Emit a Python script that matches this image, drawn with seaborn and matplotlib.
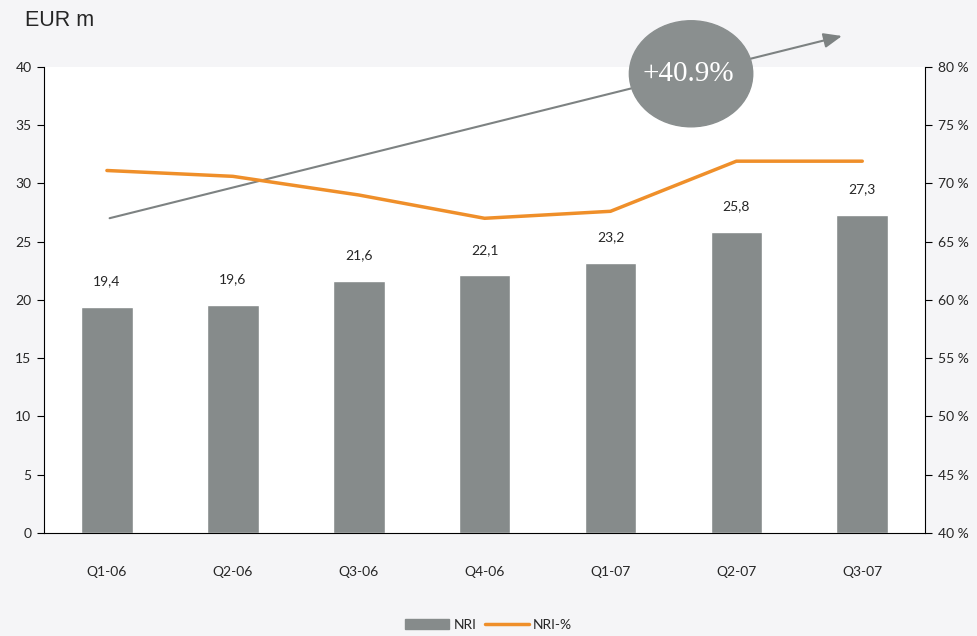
import numpy as np
import pandas as pd
import matplotlib.pyplot as plt
import seaborn as sns
from matplotlib.patches import Ellipse, Patch
from matplotlib.lines import Line2D

quarters = ["Q1-06", "Q2-06", "Q3-06", "Q4-06", "Q1-07", "Q2-07", "Q3-07"]
nri = [19.4, 19.6, 21.6, 22.1, 23.2, 25.8, 27.3]
nri_pct = [71.1, 70.6, 69.0, 67.0, 67.6, 71.9, 71.9]
growth_label = "+40.9%"

bar_col = "#868b8b"
line_col = "#ef8f2a"

sns.set_style("white")
plt.rcParams['font.family'] = ['Lato', 'DejaVu Sans']

fig = plt.figure(figsize=(9.77, 6.36), dpi=100, facecolor="#f5f5f7")
ax = fig.add_axes([0.045, 0.162, 0.902, 0.733])
ax.set_facecolor("white")

df = pd.DataFrame({"quarter": quarters, "nri": nri})
sns.barplot(data=df, x="quarter", y="nri", color=bar_col, width=0.41,
            saturation=1, ax=ax)
for i, v in enumerate(nri):
    ax.text(i, v + 2.2, f"{v:.1f}".replace(".", ","), ha="center", va="center",
            fontsize=10)

ax.set_xlim(-0.5, 6.5)
ax.set_ylim(0, 40)
ax.set_yticks(range(0, 41, 5))
ax.set_xlabel("")
ax.set_ylabel("")
ax.set_xticks(np.arange(-0.5, 7, 1), minor=True)
ax.tick_params(axis="x", which="major", length=0, pad=24, labelsize=10)
ax.tick_params(axis="x", which="minor", length=6, width=0.8, color="black",
               direction="out")
ax.tick_params(axis="y", length=5, width=0.8, color="black", direction="out",
               labelsize=10, pad=4)
for s in ["left", "bottom"]:
    ax.spines[s].set_color("black")
    ax.spines[s].set_linewidth(0.8)
ax.spines["top"].set_visible(False)
ax.spines["right"].set_visible(False)

ax2 = ax.twinx()
sns.lineplot(x=np.arange(len(quarters)), y=nri_pct, color=line_col,
             linewidth=2.5, ax=ax2)
ax2.set_ylim(40, 80)
ax2.set_yticks(range(40, 81, 5))
ax2.set_yticklabels([f"{t} %" for t in range(40, 81, 5)])
ax2.tick_params(axis="y", length=5, width=0.8, color="black", direction="out",
                labelsize=10, pad=4)
ax2.spines["right"].set_color("black")
ax2.spines["right"].set_linewidth(0.8)
for s in ["left", "top", "bottom"]:
    ax2.spines[s].set_visible(False)

# trend arrow and growth bubble
ax.annotate("", xy=(5.86, 42.7), xytext=(0, 26.95), annotation_clip=False,
            arrowprops=dict(arrowstyle="-|>,head_length=1.1,head_width=0.45",
                            color="#7d8282", lw=1.5))
bubble = Ellipse((4.64, 39.4), width=0.98, height=9.1, color="#8a8f8f",
                 clip_on=False, zorder=5)
ax.add_patch(bubble)
ax.text(4.62, 39.4, growth_label, ha="center", va="center", color="white",
        fontsize=21, family="Liberation Serif", zorder=6)

fig.text(0.026, 0.968, "EUR m", fontsize=15.5, family="Liberation Sans",
         va="center")

handles = [Patch(color=bar_col), Line2D([0], [0], color=line_col, lw=2.5)]
fig.legend(handles, ["NRI", "NRI-%"], loc="center", ncol=2,
           bbox_to_anchor=(0.5, 0.018), frameon=False, fontsize=10,
           handlelength=3.2, handletextpad=0.3, columnspacing=0.6)

fig.savefig("out.png", dpi=100, facecolor=fig.get_facecolor())
